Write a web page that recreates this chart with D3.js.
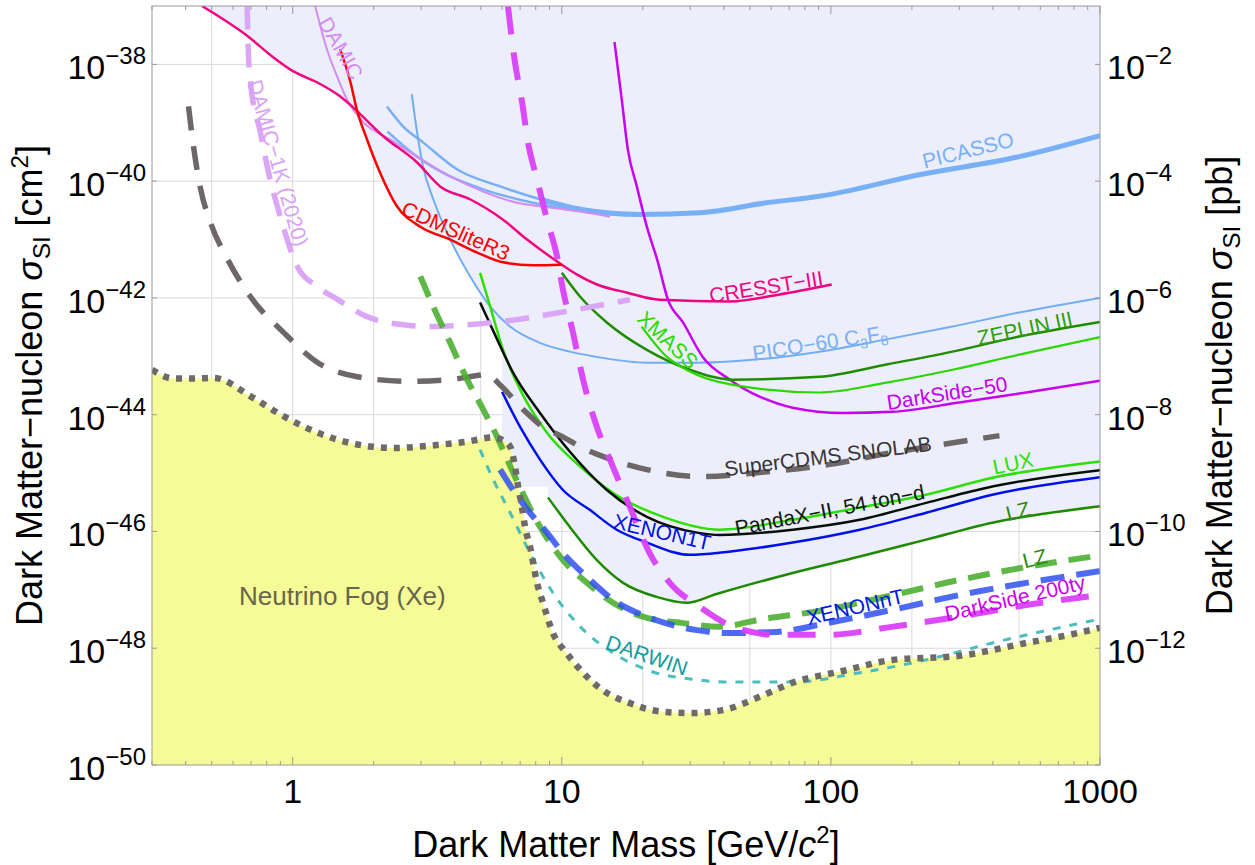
<!DOCTYPE html>
<html><head><meta charset="utf-8">
<script src="https://cdn.jsdelivr.net/npm/d3@7"></script>
<style>
body{margin:0;background:#fff}
svg{display:block}
text{font-family:"Liberation Sans",Arial,Helvetica,sans-serif}
</style>
</head><body>
<svg id="chart" width="1255" height="865"></svg>
<script>
// ---------- axis tick values ----------
const xTickLabels = [1, 10, 100, 1000];
const xGridValues = [0.5, 1, 2, 5, 10, 20, 50, 100, 200, 500];
const yTickExponents = [-38, -40, -42, -44, -46, -48, -50];   // cm^2
const pbTickExponents = [-2, -4, -6, -8, -10, -12];            // pb (= cm^2 * 1e36)

// ---------- series: [mass GeV, log10(sigma / cm^2)] ----------
const neutrinoFog = [[0.3,-43.23],[0.36,-43.38],[0.44,-43.38],[0.51,-43.37],[0.70,-43.69],[0.92,-44.02],[1.24,-44.31],[1.74,-44.51],[2.4,-44.57],[3.24,-44.53],[4.45,-44.46],[5.55,-44.39],[6.1,-44.45],[6.43,-44.55],[6.7,-44.89],[6.88,-45.23],[7.11,-45.58],[7.3,-45.92],[7.62,-46.26],[8.09,-46.88],[8.51,-47.22],[9.27,-47.74],[10.4,-48.08],[12.0,-48.42],[14.2,-48.72],[17.9,-48.94],[23.8,-49.09],[29.9,-49.11],[39.6,-49.06],[54.4,-48.83],[72.1,-48.59],[110.6,-48.39],[169.5,-48.20],[300,-48.13],[532,-47.91],[789,-47.76],[1000,-47.65]];
const cresstIII = [[0.46,-37.0],[0.677,-37.51],[0.848,-37.88],[1.006,-38.12],[1.235,-38.31],[1.503,-38.55],[1.68,-38.74],[2.17,-39.23],[2.9,-39.68],[3.53,-40.09],[4.56,-40.31],[6.05,-40.66],[7.43,-41.0],[9.85,-41.41],[11.4,-41.60],[13.5,-41.77],[17.5,-41.91],[23.1,-42.03],[42.1,-42.06],[64.5,-41.94],[100.7,-41.77]];
const damic = [[1.21,-36.99],[1.34,-37.74],[1.46,-38.20],[1.59,-38.60],[1.83,-38.99],[2.31,-39.29],[2.9,-39.58],[3.85,-39.92],[5.1,-40.18],[6.82,-40.37],[9.04,-40.45],[11.7,-40.52],[15.1,-40.61]];
const cdmsLiteR3 = [[1.50,-37.74],[1.64,-38.31],[1.73,-38.77],[1.89,-39.29],[2.11,-39.85],[2.44,-40.43],[2.98,-40.78],[3.85,-41.0],[4.83,-41.22],[6.05,-41.39],[7.82,-41.44],[10.0,-41.43]];
const picassoA = [[2.24,-38.72],[2.57,-39.06],[3.06,-39.34],[4.09,-39.80],[5.9,-40.09],[8.3,-40.31],[12.0,-40.49]];
const picassoB = [[2.25,-39.15],[2.9,-39.58],[3.85,-39.92],[5.1,-40.14],[7.82,-40.37],[12.0,-40.52],[15.8,-40.57]];
const picassoMain = [[8.3,-40.31],[12.0,-40.49],[19.5,-40.57],[32.6,-40.54],[57.7,-40.37],[90.7,-40.26],[213,-39.89],[501,-39.58],[1000,-39.22]];
const pico60 = [[2.77,-38.51],[2.9,-39.17],[3.05,-39.75],[3.33,-40.31],[3.85,-41.0],[4.56,-41.63],[5.42,-42.15],[6.42,-42.49],[8.3,-42.77],[10.7,-42.92],[13.5,-43.01],[20.7,-43.11],[31.8,-43.11],[42.1,-43.09],[90.8,-42.92],[161,-42.71],[283,-42.49],[501,-42.25],[1000,-42.00]];
const damic1k = [[0.677,-36.99],[0.685,-37.86],[0.697,-38.31],[0.759,-39.17],[0.813,-39.85],[0.9,-40.61],[1.04,-41.46],[1.24,-41.81],[1.47,-42.03],[1.89,-42.32],[2.58,-42.46],[3.33,-42.49],[4.45,-42.46],[6.82,-42.37],[10.4,-42.23],[17.9,-42.03]];
const superCDMS = [[0.41,-38.72],[0.428,-39.41],[0.455,-40.14],[0.495,-40.71],[0.573,-41.34],[0.697,-41.98],[0.924,-42.59],[1.24,-43.11],[1.74,-43.35],[2.73,-43.43],[3.85,-43.40],[4.56,-43.35],[5.28,-43.31],[5.9,-43.49],[7.18,-43.91],[8.51,-44.21],[10.1,-44.38],[11.7,-44.55],[14.7,-44.74],[20.7,-44.94],[32.6,-45.06],[54.3,-44.99],[96.4,-44.86],[169,-44.65],[259,-44.51],[423,-44.36]];
const darkSide50 = [[15.7,-37.62],[16.7,-38.60],[17.6,-39.46],[19.0,-40.09],[20.7,-40.78],[22.6,-41.34],[24.8,-42.03],[28.2,-42.42],[33.4,-43.01],[42.1,-43.40],[54.3,-43.69],[72.1,-43.88],[110.7,-43.97],[169.5,-43.95],[300,-43.79],[532,-43.62],[1000,-43.42]];
const zeplinIII = [[10.0,-41.57],[11.7,-41.98],[14.7,-42.42],[20.7,-42.89],[29.9,-43.23],[43.2,-43.40],[90.8,-43.35],[161,-43.14],[283,-42.92],[501,-42.66],[1000,-42.41]];
const xmass = [[19.8,-42.49],[24.6,-43.01],[29.9,-43.26],[43.2,-43.49],[90.8,-43.62],[161,-43.45],[283,-43.23],[501,-42.97],[1000,-42.67]];
const lux = [[4.97,-41.57],[5.42,-42.15],[6.05,-42.89],[7.0,-43.57],[8.81,-44.31],[11.7,-44.89],[15.5,-45.34],[23.8,-45.75],[38.6,-45.97],[72.1,-45.80],[128,-45.59],[226,-45.37],[398,-45.08],[1000,-44.80]];
const pandaX = [[4.97,-42.08],[5.75,-42.71],[6.59,-43.28],[8.3,-43.97],[10.7,-44.63],[14.7,-45.29],[20.7,-45.75],[31.8,-46.02],[38.6,-46.06],[72.1,-45.97],[128,-45.80],[226,-45.51],[398,-45.23],[1000,-44.95]];
const xenon1T = [[6.0,-43.61],[7.0,-44.21],[8.3,-44.77],[10.1,-45.29],[12.7,-45.63],[16.0,-45.97],[20.7,-46.19],[29.9,-46.40],[41.0,-46.35],[72.1,-46.19],[128,-45.97],[226,-45.68],[398,-45.37],[1000,-45.07]];
const lzCurrent = [[8.89,-45.42],[10.7,-45.92],[13.5,-46.49],[16.9,-46.88],[22.5,-47.12],[29.1,-47.22],[37.6,-47.07],[72.1,-46.71],[128,-46.43],[226,-46.14],[398,-45.85],[1000,-45.57]];
const lzProjected = [[2.98,-41.63],[3.33,-42.15],[3.85,-42.77],[4.45,-43.40],[5.1,-43.91],[5.75,-44.38],[6.59,-44.99],[8.3,-45.92],[10.1,-46.49],[12.4,-46.88],[15.5,-47.22],[20.0,-47.46],[28.2,-47.57],[38.6,-47.63],[54.3,-47.51],[96.4,-47.34],[170,-47.09],[300,-46.83],[532,-46.61],[1000,-46.41]];
const xenonNT = [[5.9,-44.94],[6.59,-45.29],[7.62,-45.68],[8.81,-46.02],[10.1,-46.37],[12.4,-46.78],[15.5,-47.17],[20.7,-47.46],[31.8,-47.69],[41.0,-47.74],[62.8,-47.72],[96.4,-47.57],[170,-47.34],[300,-47.09],[532,-46.88],[1000,-46.68]];
const darkSide200 = [[6.31,-37.01],[6.7,-37.97],[7.12,-38.65],[7.49,-39.34],[8.09,-39.97],[8.81,-40.66],[9.6,-41.29],[10.1,-41.86],[11.0,-42.59],[12.0,-43.40],[13.5,-44.21],[15.1,-44.77],[17.9,-45.58],[21.2,-46.37],[25.2,-46.88],[32.5,-47.29],[43.2,-47.63],[62.8,-47.77],[96.4,-47.77],[170,-47.63],[300,-47.46],[532,-47.26],[1000,-47.09]];
const darwin = [[4.97,-44.60],[5.56,-45.11],[6.43,-45.68],[7.62,-46.37],[9.27,-47.05],[11.7,-47.63],[15.5,-48.08],[20.7,-48.37],[31.8,-48.54],[41.0,-48.58],[72.1,-48.58],[128,-48.42],[226,-48.20],[398,-47.91],[1000,-47.50]];
// lower edge of the excluded (shaded) region
const excludedEdge = [[0.46,-37.0],[0.677,-37.51],[0.848,-37.88],[1.006,-38.12],[1.235,-38.31],[1.503,-38.55],[1.72,-38.76],[1.89,-39.29],[2.11,-39.85],[2.44,-40.43],[2.98,-40.78],[3.4,-40.9],[3.85,-41.0],[4.2,-41.33],[4.56,-41.63],[4.97,-41.9],[4.97,-42.08],[5.4,-42.45],[5.75,-42.71],[6.0,-42.93],[6.0,-45.23],[8.89,-45.23],[8.89,-45.42],[10.7,-45.92],[13.5,-46.49],[16.9,-46.88],[22.5,-47.12],[29.1,-47.22],[37.6,-47.07],[72.1,-46.71],[128,-46.43],[226,-46.14],[398,-45.85],[1000,-45.57],[1000,-37.0]];

// ---------- chart ----------
const W = 1255, H = 865;
const L = 152, R = 1100, T = 6, B = 765;
const svg = d3.select('#chart');
const x = d3.scaleLog().domain([0.3, 1000]).range([L, R]);
const y = d3.scaleLog().domain([1e-50, 1e-37]).range([B, T]);
const px = d => x(d[0]);
const py = d => y(Math.pow(10, d[1]));

svg.append('defs').append('clipPath').attr('id','clip')
  .append('rect').attr('x',L).attr('y',T).attr('width',R-L).attr('height',B-T);

// grid
const grid = svg.append('g').attr('stroke','#d9d9d9').attr('stroke-width',1);
xGridValues.forEach(v => grid.append('line').attr('x1',x(v)).attr('x2',x(v)).attr('y1',T).attr('y2',B));
yTickExponents.filter(e => e > -50).forEach(e => grid.append('line').attr('x1',L).attr('x2',R).attr('y1',y(Math.pow(10,e))).attr('y2',y(Math.pow(10,e))));

const plot = svg.append('g').attr('clip-path','url(#clip)');

// excluded region
plot.append('path').datum(excludedEdge)
  .attr('d', d3.line().x(px).y(py).curve(d3.curveLinear)(excludedEdge) + 'Z')
  .attr('fill','#eceefc').attr('stroke','none');

// neutrino fog
plot.append('path').datum(neutrinoFog)
  .attr('d', d3.area().x(px).y0(B).y1(py).curve(d3.curveMonotoneX))
  .attr('fill','#f6fa97');

const line = d3.line().x(px).y(py).curve(d3.curveMonotoneX);
const series = [
  {data: picassoA, color:'#78b0f5', w:2.5},
  {data: picassoB, color:'#78b0f5', w:2.5},
  {data: picassoMain, color:'#78b0f5', w:5},
  {data: pico60, color:'#72adf3', w:2},
  {data: damic, color:'#d48cf2', w:2},
  {data: cresstIII, color:'#f0047f', w:2.5},
  {data: cdmsLiteR3, color:'#ff0000', w:2.5},
  {data: darkSide50, color:'#c800f0', w:2.5},
  {data: zeplinIII, color:'#1f8c00', w:2.5},
  {data: xmass, color:'#2ad800', w:2.2},
  {data: lux, color:'#2ee000', w:2.5},
  {data: xenon1T, color:'#0010e8', w:2.5},
  {data: lzCurrent, color:'#1e8a00', w:2.5},
  {data: pandaX, color:'#061006', w:2.5},
  {data: superCDMS, color:'#6e6767', w:5.5, dash:'24,16'},
  {data: damic1k, color:'#dca6f7', w:5.5, dash:'24,14'},
  {data: lzProjected, color:'#4caf32', w:6, dash:'22,12', op:0.9},
  {data: xenonNT, color:'#3050f0', w:6, dash:'24,12', op:0.85},
  {data: darkSide200, color:'#da40fa', w:6, dash:'28,18', op:0.95},
  {data: darwin, color:'#4abdbd', w:3, dash:'8,9'},
  {data: neutrinoFog, color:'#6e6a6a', w:6.5, dash:'6,7'}
];
series.forEach(s => {
  plot.append('path').attr('d', line(s.data)).attr('fill','none')
    .attr('stroke', s.color).attr('stroke-width', s.w)
    .attr('stroke-dasharray', s.dash || null)
    .attr('stroke-opacity', s.op || 1)
    .attr('stroke-linejoin','round');
});

// curve labels: [mass, log10 sigma] centre, rotation
const labels = [
  {t:'DAMIC', p:[1.51,-37.72], r:60, c:'#d48cf2'},
  {t:'DAMIC\u22121K (2020)', p:[0.882,-39.69], r:74, c:'#d9a0f5'},
  {t:'CDMSliteR3', p:[4.04,-40.85], r:24, c:'#ff0000'},
  {t:'CRESST\u2212III', p:[57.4,-41.81], r:-9, c:'#f0047f'},
  {t:'PICASSO', p:[323,-39.47], r:-14, c:'#78b0f5'},
  {t:'PICO', p:[91,-42.77], r:-9, c:'#78b0f5', pico:true},
  {t:'XMASS', p:[24.8,-42.72], r:43, c:'#2ad800'},
  {t:'ZEPLIN III', p:[526,-42.52], r:-12, c:'#2e9e10'},
  {t:'DarkSide\u221250', p:[270,-43.63], r:-9, c:'#c400f0'},
  {t:'SuperCDMS SNOLAB', p:[97.5,-44.71], r:-7, c:'#3a3535'},
  {t:'LUX', p:[475,-44.83], r:-12, c:'#2ee000'},
  {t:'PandaX\u2212II, 54 ton\u2212d', p:[99,-45.63], r:-11, c:'#111811'},
  {t:'XENON1T', p:[23.6,-46.01], r:13, c:'#0010e8'},
  {t:'LZ', p:[496,-45.65], r:-14, c:'#2e8b10'},
  {t:'LZ', p:[573,-46.46], r:-14, c:'#2e8b10'},
  {t:'XENONnT', p:[123,-47.29], r:-13, c:'#0018e8'},
  {t:'DarkSide 200ty', p:[483,-47.14], r:-13, c:'#cc00ee'},
  {t:'DARWIN', p:[20.7,-48.12], r:19, c:'#119c9c'}
];
const lg = svg.append('g');
labels.forEach(l => {
  const g = lg.append('g').attr('transform', `translate(${px(l.p)},${py(l.p)}) rotate(${l.r})`);
  const te = g.append('text').attr('text-anchor','middle').attr('dy','0.35em')
    .attr('font-size',21).attr('fill',l.c);
  if (l.pico) {
    te.append('tspan').text('PICO\u221260 C');
    te.append('tspan').attr('font-size',14).attr('dy',5).text('3');
    te.append('tspan').attr('dy',-5).text('F');
    te.append('tspan').attr('font-size',14).attr('dy',5).text('8');
  } else te.text(l.t);
});
svg.append('text').attr('x', x(1.53)).attr('y', y(Math.pow(10,-47.11))).attr('dy','0.35em')
  .attr('text-anchor','middle').attr('font-size',26).attr('fill','#66664a').text('Neutrino Fog (Xe)');

// frame & ticks
const fr = svg.append('g').attr('stroke','#9a9a9a').attr('stroke-width',1).attr('fill','none');
fr.append('rect').attr('x',L).attr('y',T).attr('width',R-L).attr('height',B-T);
const minorX = [];
[-1,0,1,2].forEach(dec => { for (let k=2;k<=9;k++){ const v=k*Math.pow(10,dec); if (v>0.3 && v<1000) minorX.push(v);} });
minorX.forEach(v => {
  fr.append('line').attr('x1',x(v)).attr('x2',x(v)).attr('y1',B).attr('y2',B-4);
  fr.append('line').attr('x1',x(v)).attr('x2',x(v)).attr('y1',T).attr('y2',T+4);
});
xTickLabels.forEach(v => {
  fr.append('line').attr('x1',x(v)).attr('x2',x(v)).attr('y1',B).attr('y2',B-8);
  fr.append('line').attr('x1',x(v)).attr('x2',x(v)).attr('y1',T).attr('y2',T+8);
});
yTickExponents.forEach(e => {
  const yy = y(Math.pow(10,e));
  fr.append('line').attr('x1',L).attr('x2',L+5).attr('y1',yy).attr('y2',yy);
  fr.append('line').attr('x1',R).attr('x2',R-5).attr('y1',yy).attr('y2',yy);
});

// tick labels
const tl = svg.append('g').attr('fill','#000');
xTickLabels.forEach(v => {
  tl.append('text').attr('x',x(v)).attr('y',803).attr('text-anchor','middle').attr('font-size',34).text(v);
});
yTickExponents.forEach(e => {
  const t = tl.append('text').attr('x',146).attr('y',y(Math.pow(10,e))+15).attr('text-anchor','end').attr('font-size',34);
  t.append('tspan').text('10');
  t.append('tspan').attr('font-size',24).attr('dy',-15).text('\u2212' + Math.abs(e));
});
pbTickExponents.forEach(e => {
  const t = tl.append('text').attr('x',1107).attr('y',y(Math.pow(10,e-36))+15).attr('text-anchor','start').attr('font-size',34);
  t.append('tspan').text('10');
  t.append('tspan').attr('font-size',24).attr('dy',-15).text('\u2212' + Math.abs(e));
});

// axis titles
const xt = svg.append('text').attr('x',(L+R)/2).attr('y',857).attr('text-anchor','middle').attr('font-size',36);
xt.append('tspan').text('Dark Matter Mass [GeV/');
xt.append('tspan').attr('font-style','italic').text('c');
xt.append('tspan').attr('font-size',24).attr('dy',-14).text('2');
xt.append('tspan').attr('dy',14).text(']');

function yTitle(xpos, unit, sup) {
  const t = svg.append('text').attr('transform',`translate(${xpos},${(T+B)/2}) rotate(-90)`)
    .attr('text-anchor','middle').attr('font-size',36);
  t.append('tspan').text('Dark Matter\u2212nucleon ');
  t.append('tspan').attr('font-style','italic').text('\u03c3');
  t.append('tspan').attr('font-size',24).attr('dy',8).text('SI');
  t.append('tspan').attr('dy',-8).text(' [' + unit);
  if (sup) { t.append('tspan').attr('font-size',24).attr('dy',-14).text(sup); t.append('tspan').attr('dy',14).text(']'); }
  else t.append('tspan').text(']');
}
yTitle(42, 'cm', '2');
yTitle(1232, 'pb', null);
</script>
</body></html>
